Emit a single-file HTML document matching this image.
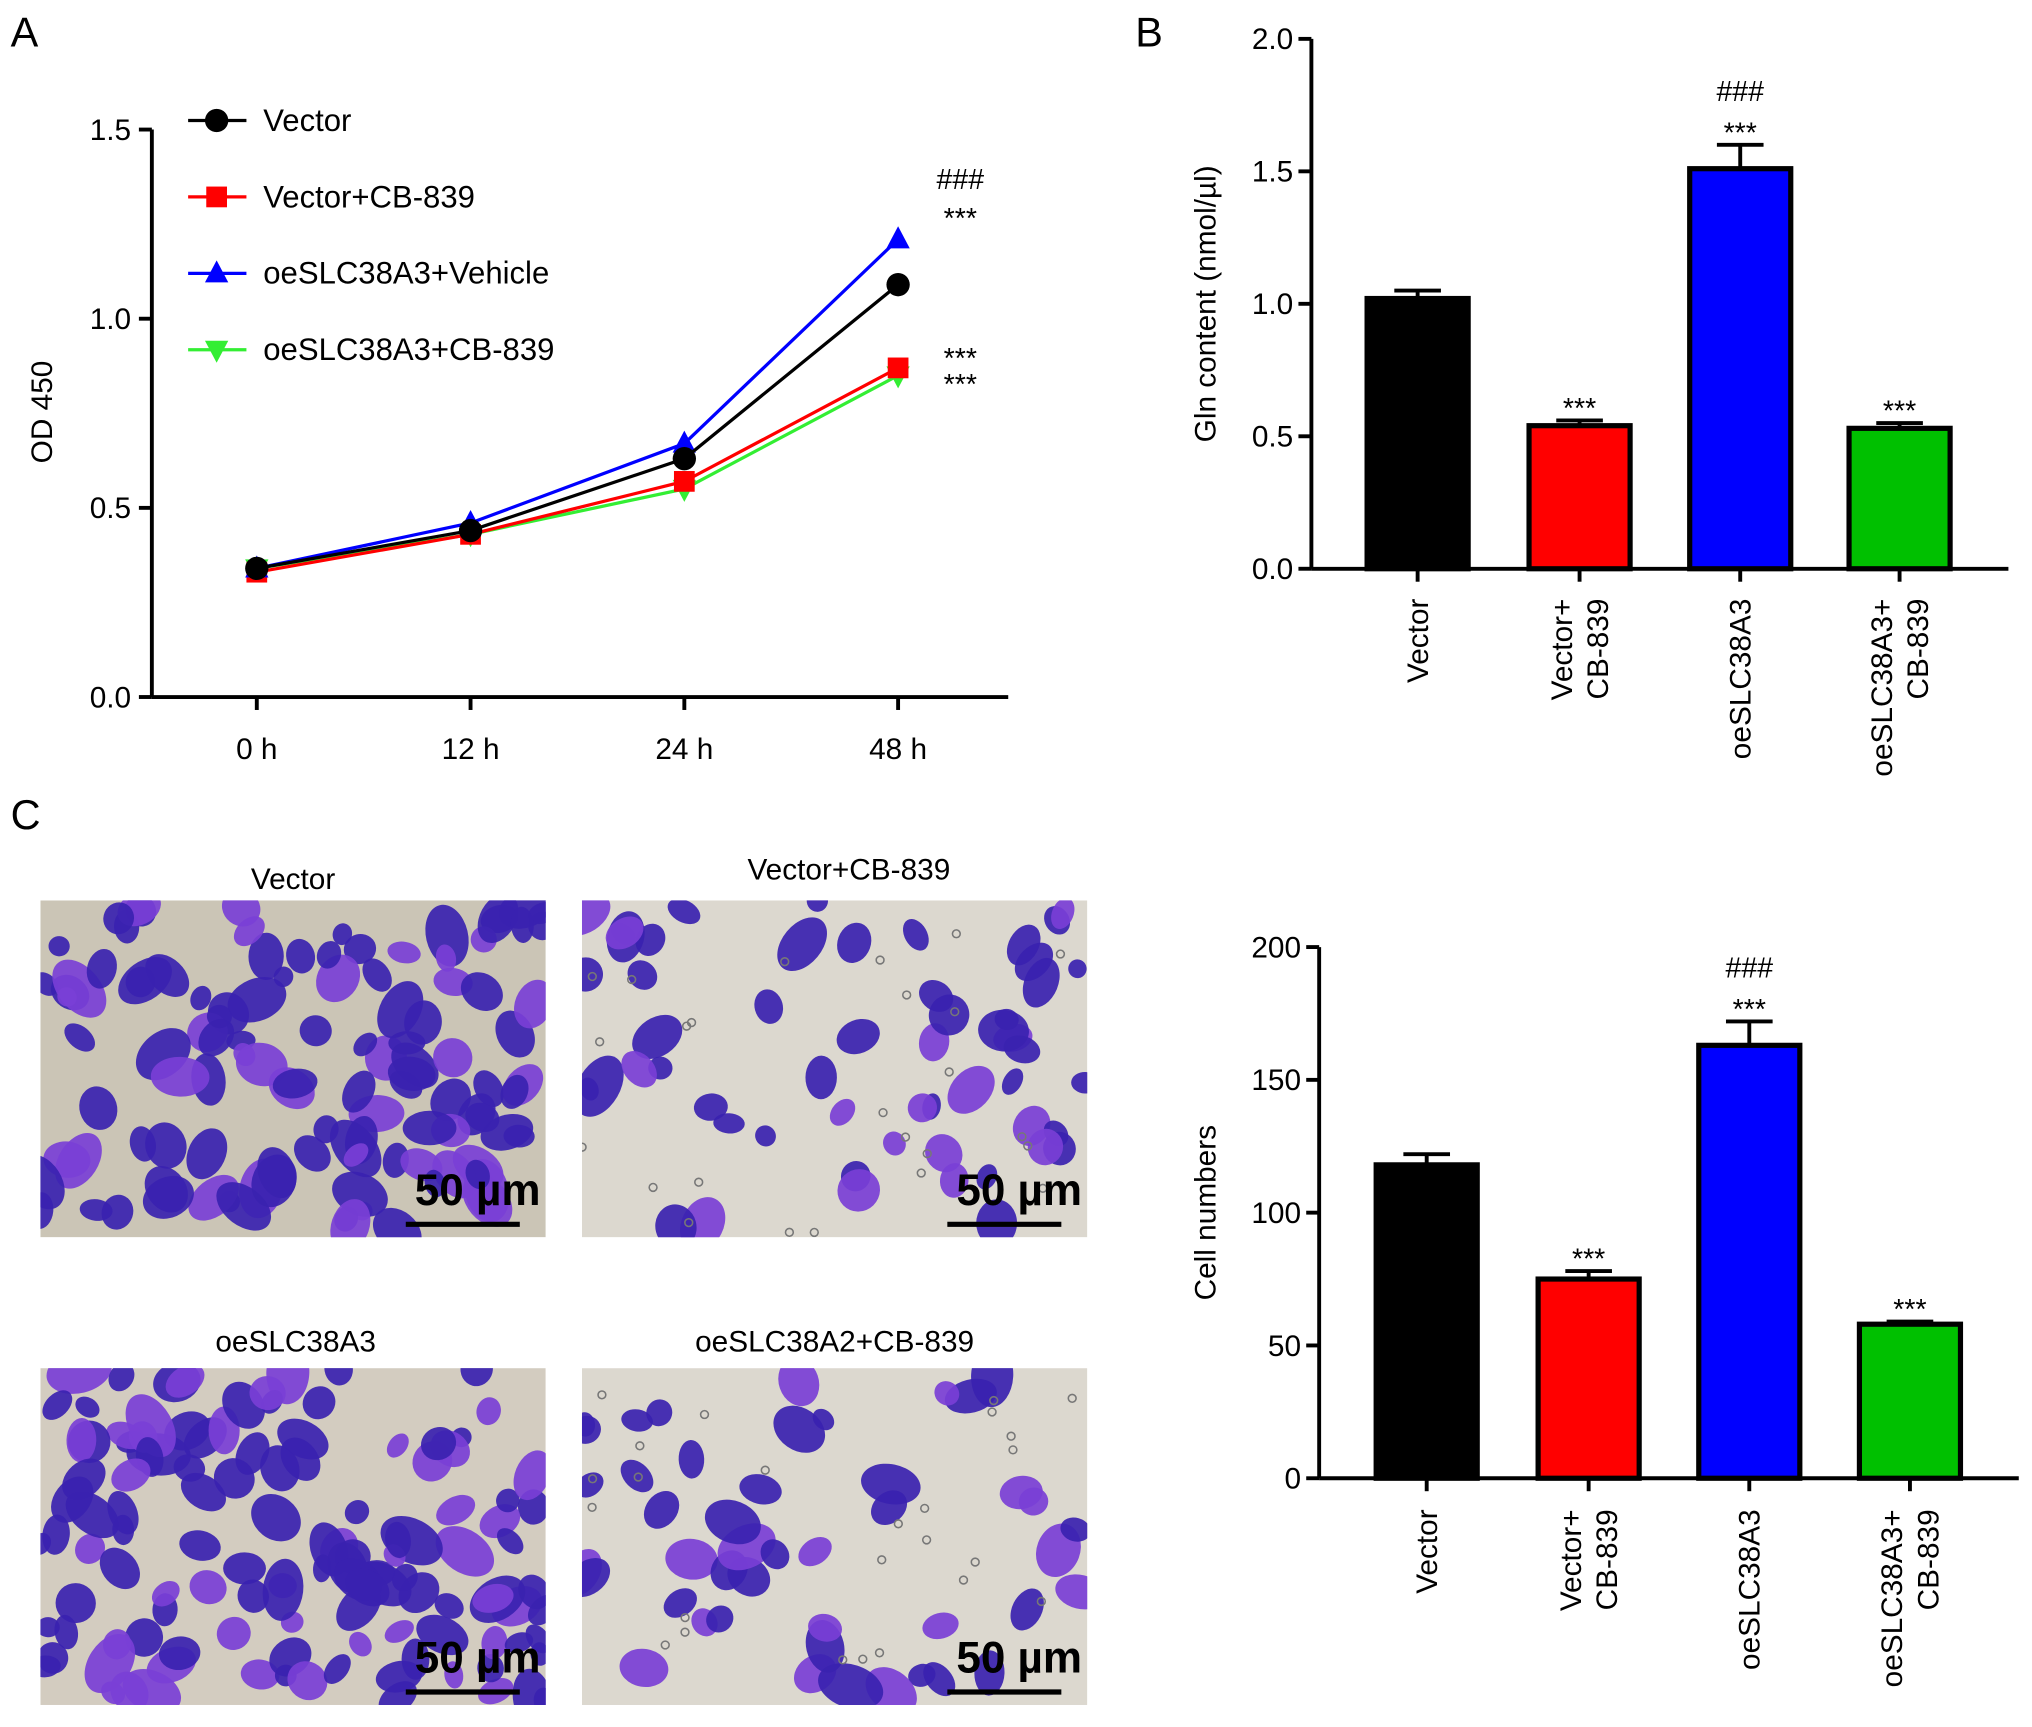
<!DOCTYPE html>
<html><head><meta charset="utf-8"><style>
html,body{margin:0;padding:0;background:#fff;}
svg{display:block;font-family:"Liberation Sans",Arial,sans-serif;}
</style></head><body>
<svg id="fig" width="2032" height="1727" viewBox="0 0 1568 1333" xmlns="http://www.w3.org/2000/svg">
<rect width="1568" height="1333" fill="#fff"/>
<text x="8" y="36" font-size="32">A</text>
<text x="876" y="36" font-size="32">B</text>
<text x="8" y="640" font-size="32">C</text>
<g id="A"></g>
<g id="B"></g>
<g id="C"></g>
<g id="P"></g>
</svg>
<script>
const NS="http://www.w3.org/2000/svg";
function mk(p,t,a,txt){const e=document.createElementNS(NS,t);for(const k in a)e.setAttribute(k,a[k]);if(txt!==undefined)e.textContent=txt;p.appendChild(e);return e;}

// ---- Panel A data ----
const timeLabels=["0 h","12 h","24 h","48 h"];
const seriesNames=["Vector","Vector+CB-839","oeSLC38A3+Vehicle","oeSLC38A3+CB-839"];
const vectorVals=[0.34,0.44,0.63,1.09];
const vectorCbVals=[0.33,0.43,0.57,0.87];
const oeVehicleVals=[0.34,0.46,0.67,1.21];
const oeCbVals=[0.34,0.43,0.55,0.85];
const aTicks=[0,0.5,1.0,1.5];
const aTickLabels=["0.0","0.5","1.0","1.5"];

// ---- Panel B data ----
const barCats=[["Vector"],["Vector+","CB-839"],["oeSLC38A3"],["oeSLC38A3+","CB-839"]];
const glnVals=[1.02,0.54,1.51,0.53];
const glnErr=[0.03,0.02,0.09,0.02];
const glnStars=["","***","***","***"];
const glnHash=["","","###",""];
const bTicks=[0,0.5,1.0,1.5,2.0];
const bTickLabels=["0.0","0.5","1.0","1.5","2.0"];

// ---- Panel C data ----
const cellVals=[118,75,163,58];
const cellErr=[4,3,9,1];
const cellStars=["","***","***","***"];
const cellHash=["","","###",""];
const cTicks=[0,50,100,150,200];
const cTickLabels=["0","50","100","150","200"];
const barColors=["#000000","#ff0000","#0000ff","#00c000"];

// Panel A
(function(){
 const g=document.getElementById('A');
 const x0=117,x1=778,yT=100,yB=538;
 const xs=[198,363,528,693];
 const y=v=>yB-(v/1.5)*(yB-yT);
 mk(g,'line',{x1:x0,y1:yT,x2:x0,y2:yB,stroke:'#000','stroke-width':3});
 mk(g,'line',{x1:x0,y1:yB,x2:x1,y2:yB,stroke:'#000','stroke-width':3});
 aTicks.forEach((t,i)=>{mk(g,'line',{x1:x0-10,y1:y(t),x2:x0,y2:y(t),stroke:'#000','stroke-width':3});
  const l=mk(g,'text',{x:x0-16,y:y(t)+8,'font-size':23,'text-anchor':'end'},aTickLabels[i]);
  });
 timeLabels.forEach((t,i)=>{mk(g,'line',{x1:xs[i],y1:yB,x2:xs[i],y2:yB+10,stroke:'#000','stroke-width':3});
  const l=mk(g,'text',{x:xs[i],y:yB+48,'font-size':23,'text-anchor':'middle'},t);
  });
 const yl=mk(g,'text',{x:40,y:318,'font-size':23,'text-anchor':'middle',transform:'rotate(-90 40 318)'},'OD 450');
 
 const S=[[vectorVals,'#000','circle'],[vectorCbVals,'#ff0000','square'],[oeVehicleVals,'#0000ff','tri'],[oeCbVals,'#33ee33','itri']];
 function marker(p,shape,cx,cy,c){
  if(shape==='circle')return mk(p,'circle',{cx,cy,r:9,fill:c});
  if(shape==='square')return mk(p,'rect',{x:cx-8,y:cy-8,width:16,height:16,fill:c});
  if(shape==='tri')return mk(p,'polygon',{points:`${cx},${cy-10} ${cx-9},${cy+7} ${cx+9},${cy+7}`,fill:c});
  return mk(p,'polygon',{points:`${cx},${cy+10} ${cx-9},${cy-7} ${cx+9},${cy-7}`,fill:c});}
 [3,1,2,0].forEach(k=>{const [vals,c,sh]=S[k];
  const sg=mk(g,'g',{});
  mk(sg,'polyline',{points:vals.map((v,i)=>xs[i]+','+y(v)).join(' '),fill:'none',stroke:c,'stroke-width':2.5});
  vals.forEach((v,i)=>{const m=marker(sg,sh,xs[i],y(v),c);});});
 seriesNames.forEach((n,k)=>{const ly=93+k*59;
  const lg=mk(g,'g',{});
  mk(lg,'line',{x1:145,y1:ly,x2:190,y2:ly,stroke:S[k][1],'stroke-width':2.5});
  marker(lg,S[k][2],167,ly,S[k][1]);
  mk(lg,'text',{x:203,y:ly+8,'font-size':24},n);});
 [['###',138],['***',168],['***',276],['***',296]].forEach(a=>{const t=mk(g,'text',{x:741,y:a[1]+8,'font-size':22,'text-anchor':'middle'},a[0]);
  });
})();

function barChart(id,x0,x1,yT,yB,ticks,tickLabels,maxV,vals,errs,stars,hashes,centers,title,titleX,labelY){
 const g=document.getElementById(id);
 const y=v=>yB-(v/maxV)*(yB-yT);
 mk(g,'line',{x1:x0,y1:yT,x2:x0,y2:yB,stroke:'#000','stroke-width':3});
 mk(g,'line',{x1:x0,y1:yB,x2:x1,y2:yB,stroke:'#000','stroke-width':3});
 ticks.forEach((t,i)=>{mk(g,'line',{x1:x0-10,y1:y(t),x2:x0,y2:y(t),stroke:'#000','stroke-width':3});
  const l=mk(g,'text',{x:x0-14,y:y(t)+8,'font-size':23,'text-anchor':'end'},tickLabels[i]);
  });
 const cy=(yT+yB)/2;
 const yl=mk(g,'text',{x:titleX,y:cy,'font-size':23,'text-anchor':'middle',transform:`rotate(-90 ${titleX} ${cy})`},title);
 
 vals.forEach((v,i)=>{const cx=centers[i],w=78;
  const bg=mk(g,'g',{});
  const ye=y(v+errs[i]);
  mk(bg,'line',{x1:cx,y1:ye,x2:cx,y2:y(v),stroke:'#000','stroke-width':3});
  mk(bg,'line',{x1:cx-18,y1:ye,x2:cx+18,y2:ye,stroke:'#000','stroke-width':3});
  mk(bg,'rect',{x:cx-w/2,y:y(v),width:w,height:yB-y(v),fill:barColors[i],stroke:'#000','stroke-width':4});
  if(stars[i]){const t=mk(g,'text',{x:cx,y:ye-2,'font-size':22,'text-anchor':'middle'},stars[i]);}
  if(hashes[i]){const t=mk(g,'text',{x:cx,y:ye-34,'font-size':22,'text-anchor':'middle'},hashes[i]);}
  mk(g,'line',{x1:cx,y1:yB,x2:cx,y2:yB+10,stroke:'#000','stroke-width':3});
  const lines=barCats[i];
  lines.forEach((s,j)=>{const lx=cx+8+(j-(lines.length-1)/2)*28*(lines.length>1?1:0);
   const t=mk(g,'text',{x:lx,y:labelY,'font-size':23,'text-anchor':'end',transform:`rotate(-90 ${lx} ${labelY})`},s);
   });
 });
}
barChart('B',1012,1550,30,439,bTicks,bTickLabels,2.0,glnVals,glnErr,glnStars,glnHash,[1094,1219,1343,1466],'Gln content (nmol/\u00b5l)',938,462);
barChart('C',1018,1558,731,1141,cTicks,cTickLabels,200,cellVals,cellErr,cellStars,cellHash,[1101,1226,1350,1474],'Cell numbers',938,1165);

// micrographs
(function(){
 const g=document.getElementById('P');
 const panels=[[31,695,'Vector',226,678,'#cbc5b6',110],[449,695,'Vector+CB-839',655,671,'#dcd8cf',55],[31,1056,'oeSLC38A3',228,1035,'#d3ccc0',120],[449,1056,'oeSLC38A2+CB-839',644,1035,'#dcd8cf',45]];
 let seed=7;const rnd=()=>{seed=(seed*16807)%2147483647;return seed/2147483647;};
 panels.forEach((p,k)=>{const [x,y,t,tx,ty,bg,n]=p;
  const pg=mk(g,'g',{});
  mk(pg,'text',{x:tx,y:ty+8,'font-size':23,'text-anchor':'middle'},t);
  const cid='clip'+k;const cp=mk(pg,'clipPath',{id:cid});mk(cp,'rect',{x,y,width:390,height:260});
  const ig=mk(pg,'g',{'clip-path':`url(#${cid})`});
  mk(ig,'rect',{x,y,width:390,height:260,fill:bg});
  for(let i=0;i<n;i++){const cx=x+rnd()*390,cy=y+rnd()*260,r=7+rnd()*10;
   const c=rnd()<0.7?'#3a22b0':'#7a3fd6';
   mk(ig,'ellipse',{cx,cy,rx:r*(1+rnd()*0.6),ry:r,fill:c,opacity:0.92,transform:`rotate(${rnd()*180} ${cx} ${cy})`});}
  if(k%2===1){for(let i=0;i<25;i++){mk(ig,'circle',{cx:x+rnd()*390,cy:y+rnd()*260,r:3,fill:'none',stroke:'#777','stroke-width':1.2});}}
  mk(pg,'text',{x:x+386,y:y+235,'font-size':34,'font-weight':'bold','text-anchor':'end'},'50 \u00b5m');
  mk(pg,'line',{x1:x+282,y1:y+250,x2:x+370,y2:y+250,stroke:'#000','stroke-width':4});
 });
})();
</script>
</body></html>
